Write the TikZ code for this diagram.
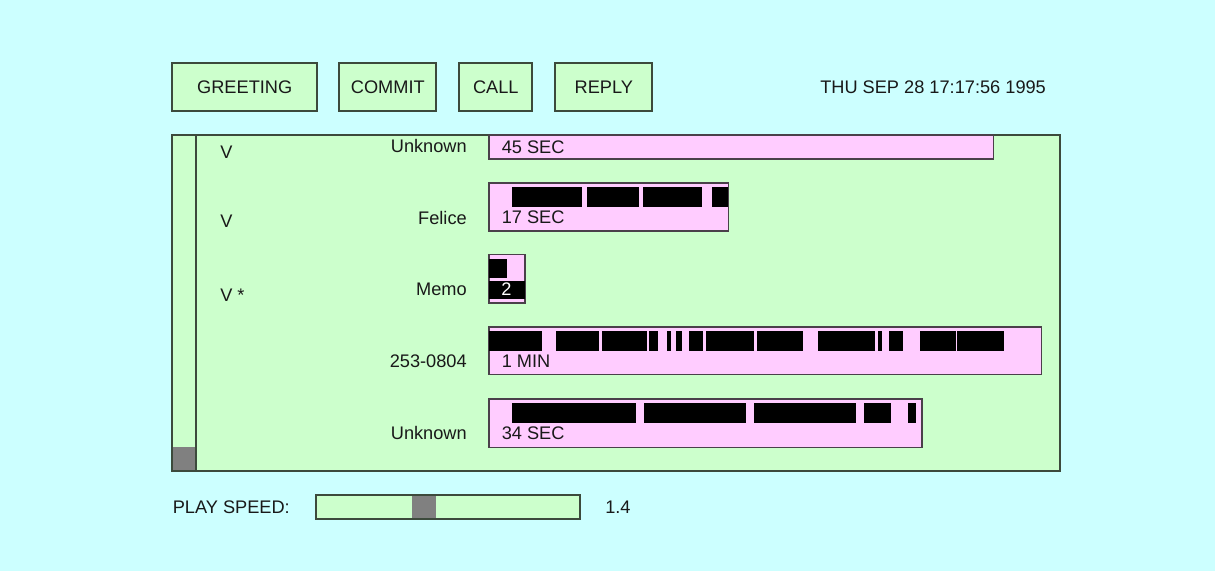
\documentclass[tikz,border=0pt]{standalone}
\usepackage{fontspec}
\setmainfont{Liberation Sans}
\definecolor{bgcyan}{HTML}{CCFFFF}
\definecolor{panelgreen}{HTML}{CCFFCC}
\definecolor{barpink}{HTML}{FFCCFF}
\definecolor{edgegray}{HTML}{3C4A3C}
\definecolor{baredge}{HTML}{4A404A}
\definecolor{thumbgray}{HTML}{808080}
\begin{document}
\begin{tikzpicture}[x=0.75pt,y=-0.75pt,
  every node/.style={font=\fontsize{13.65}{16}\selectfont, text=black!90},
  btn/.style={draw=edgegray, fill=panelgreen, line width=1.5pt, minimum height=36.2pt, inner sep=0pt},
  frame/.style={draw=edgegray, line width=1.5pt},
  bar/.style={draw=baredge, fill=barpink, line width=1.2pt},
  blk/.style={fill=black},
  rowlabel/.style={anchor=base east, inner sep=0pt},
  bartext/.style={anchor=base west, inner sep=0pt},
  statusmark/.style={anchor=base west, inner sep=0pt}
]
% page background
\fill[bgcyan] (0,0) rectangle (1215,571);
\useasboundingbox (0,0) rectangle (1215,571);

% command buttons
\node[btn, minimum width=108.5pt] (greet) at (244.7,86.9) {GREETING};
\node[btn, minimum width=72.8pt] (commit) at (387.8,86.9) {COMMIT};
\node[btn, minimum width=54.8pt] (call) at (495.8,86.9) {CALL};
\node[btn, minimum width=72.8pt] (reply) at (603.8,86.9) {REPLY};
\node[anchor=base west, inner sep=0pt] (date) at (820,93.5) {THU SEP 28 17:17:56 1995};

% message list panel with scroll bar
\fill[panelgreen] (172,134.7) rectangle (1059.7,470.7);
\fill[thumbgray] (172,447.3) rectangle (195.7,470.7);
\draw[frame] (195.7,134.7) -- (195.7,470.7);
\draw[frame] (172,134.7) rectangle (1059.7,470.7);

% status marks
\node[statusmark] (v1) at (220,158.3) {V};
\node[statusmark] (v2) at (220,227) {V};
\node[statusmark] (v3) at (220,301.5) {V *};

% caller names
\node[rowlabel] (n1) at (467,152.7) {Unknown};
\node[rowlabel] (n2) at (467,224) {Felice};
\node[rowlabel] (n3) at (467,295.3) {Memo};
\node[rowlabel] (n4) at (467,367.3) {253-0804};
\node[rowlabel] (n5) at (467,439) {Unknown};

% message 1
\draw[bar] (488.7,134.7) rectangle (993.3,159);
\node[bartext] (t1) at (501.5,153) {45 SEC};

% message 2
\draw[bar] (488.7,182.7) rectangle (728.3,231);
\fill[blk] (511.7,187.3) rectangle (582.3,207.3);
\fill[blk] (586.7,187.3) rectangle (638.7,207.3);
\fill[blk] (643.3,187.3) rectangle (701.7,207.3);
\fill[blk] (712.3,187.3) rectangle (728.3,207.3);
\node[bartext] (t2) at (501.5,223.3) {17 SEC};

% memo
\draw[bar] (488.7,254.3) rectangle (525,302.7);
\fill[blk] (488.7,259.3) rectangle (506.7,278.3);
\fill[blk] (488.7,280.7) rectangle (525,299.3);
\node[bartext, text=white] (t3) at (501,295) {2};

% message 4
\draw[bar] (488.7,326.7) rectangle (1041.3,374.3);
\fill[blk] (488.7,330.7) rectangle (541.5,350.7);
\fill[blk] (555.5,330.7) rectangle (599.3,350.7);
\fill[blk] (602,330.7) rectangle (647.4,350.7);
\fill[blk] (649.3,330.7) rectangle (658,350.7);
\fill[blk] (666.7,330.7) rectangle (671,350.7);
\fill[blk] (676,330.7) rectangle (681.5,350.7);
\fill[blk] (689,330.7) rectangle (702.6,350.7);
\fill[blk] (705.6,330.7) rectangle (753.7,350.7);
\fill[blk] (756.7,330.7) rectangle (802.7,350.7);
\fill[blk] (817.7,330.7) rectangle (875,350.7);
\fill[blk] (877.7,330.7) rectangle (882.3,350.7);
\fill[blk] (889.3,330.7) rectangle (903.3,350.7);
\fill[blk] (920,330.7) rectangle (955.7,350.7);
\fill[blk] (957,330.7) rectangle (1004.3,350.7);
\node[bartext] (t4) at (501.5,367.3) {1 MIN};

% message 5
\draw[bar] (488.7,398.7) rectangle (921.7,447.3);
\fill[blk] (512.3,403.3) rectangle (635.7,423.3);
\fill[blk] (644.3,403.3) rectangle (745.7,423.3);
\fill[blk] (754,403.3) rectangle (855.7,423.3);
\fill[blk] (864,403.3) rectangle (891.3,423.3);
\fill[blk] (908,403.3) rectangle (916.3,423.3);
\node[bartext] (t5) at (501.5,439) {34 SEC};

% play speed slider
\node[anchor=base west, inner sep=0pt] (speedlbl) at (172.5,513.3) {PLAY SPEED:};
\fill[panelgreen] (315.7,495) rectangle (580,519);
\fill[thumbgray] (412.3,495) rectangle (436,519);
\draw[frame] (315.7,495) rectangle (580,519);
\node[anchor=base west, inner sep=0pt] (speedval) at (605,513.3) {1.4};
\end{tikzpicture}
\end{document}
